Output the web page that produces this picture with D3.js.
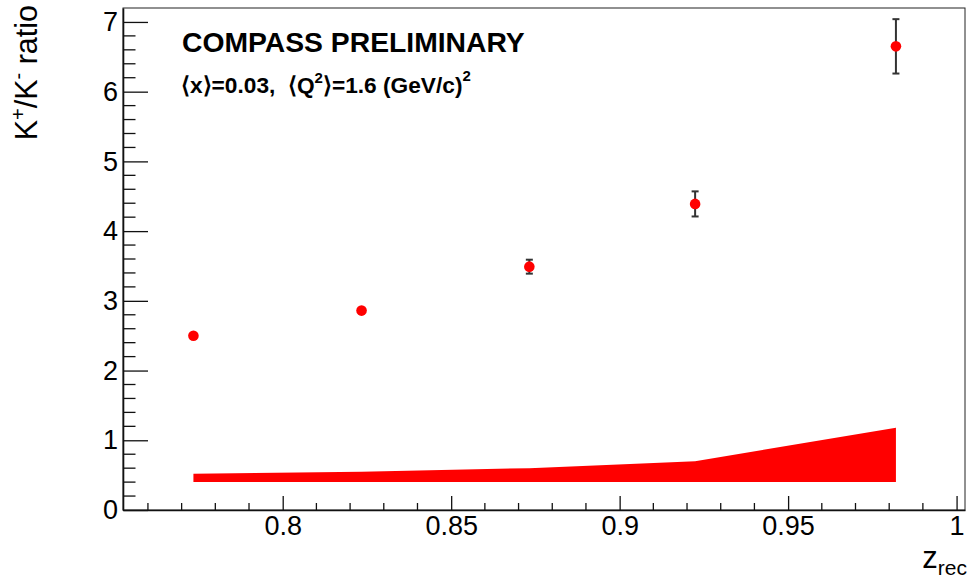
<!DOCTYPE html>
<html>
<head>
<meta charset="utf-8">
<script src="https://cdn.jsdelivr.net/npm/d3@7"></script>
<style>
  html, body { margin: 0; padding: 0; background: #fff; }
  svg { display: block; }
  text { font-family: "Liberation Sans", Arial, Helvetica, sans-serif; }
</style>
</head>
<body>
<svg id="chart" width="969" height="579"></svg>
<script>
// ---- data ----
const zValues   = [0.7735, 0.8234, 0.8732, 0.9224, 0.9820];
const ratio     = [2.50, 2.86, 3.49, 4.39, 6.65];
const statErr   = [0.02, 0.03, 0.10, 0.18, 0.39];
const sysLow    = [0.40, 0.40, 0.40, 0.40, 0.40];
const sysHigh   = [0.52, 0.55, 0.60, 0.70, 1.18];
const xTicks    = [0.8, 0.85, 0.9, 0.95, 1];
const xTickLabels = ["0.8", "0.85", "0.9", "0.95", "1"];
const yTicks    = [0, 1, 2, 3, 4, 5, 6, 7];
const xDomain   = [0.7526, 1.0025];
const yDomain   = [0, 7.2];

// ---- layout ----
const svg = d3.select("#chart");
const L = 123, R = 965, T = 8, B = 510;
const x = d3.scaleLinear().domain(xDomain).range([L, R]);
const y = d3.scaleLinear().domain(yDomain).range([B, T]);

svg.append("rect").attr("width", 969).attr("height", 579).attr("fill", "#fff");

// systematic band
const bandPts = zValues.map((z, i) => [x(z), y(sysHigh[i])])
  .concat(zValues.map((z, i) => [x(z), y(sysLow[i])]).reverse());
svg.append("path")
  .attr("d", d3.line()(bandPts) + "Z")
  .attr("fill", "#ff0000")
  .attr("stroke", "none");

// frame
svg.append("rect")
  .attr("x", L).attr("y", T).attr("width", R - L).attr("height", B - T)
  .attr("fill", "none").attr("stroke", "#222").attr("stroke-width", 1);

// x axis
const xAxis = d3.axisBottom(x)
  .tickValues(xTicks)
  .tickFormat((d, i) => xTickLabels[i])
  .tickSizeInner(-14).tickSizeOuter(0).tickPadding(6);
const gx = svg.append("g").attr("transform", `translate(0,${B})`).call(xAxis);
gx.select(".domain").attr("stroke", "#111").attr("stroke-width", 1.6);
gx.selectAll(".tick line").attr("stroke", "#111").attr("stroke-width", 1.3);
gx.selectAll(".tick text").attr("font-size", 27).attr("fill", "#000")
  .attr("font-family", "Liberation Sans, Arial, sans-serif");
const xMinor = d3.range(76, 101).map(v => v / 100).filter(v => !xTicks.some(t => Math.abs(t - v) < 1e-9));
svg.append("g").selectAll("line").data(xMinor).join("line")
  .attr("x1", d => x(d)).attr("x2", d => x(d))
  .attr("y1", B).attr("y2", B - 7)
  .attr("stroke", "#111").attr("stroke-width", 1.3);

// y axis
const yAxis = d3.axisLeft(y)
  .tickValues(yTicks)
  .tickFormat(d3.format("d"))
  .tickSizeInner(-25).tickSizeOuter(0).tickPadding(5);
const gy = svg.append("g").attr("transform", `translate(${L},0)`).call(yAxis);
gy.select(".domain").attr("stroke", "#111").attr("stroke-width", 1.6);
gy.selectAll(".tick line").attr("stroke", "#111").attr("stroke-width", 1.3);
gy.selectAll(".tick text").attr("font-size", 27).attr("fill", "#000")
  .attr("font-family", "Liberation Sans, Arial, sans-serif");
const yMinor = d3.range(1, 36).map(v => v * 0.2).filter(v => Math.abs(v - Math.round(v)) > 1e-6 && v <= 7.2);
svg.append("g").selectAll("line").data(yMinor).join("line")
  .attr("x1", L).attr("x2", L + 12.5)
  .attr("y1", d => y(d)).attr("y2", d => y(d))
  .attr("stroke", "#111").attr("stroke-width", 1.3);

// error bars
const eb = svg.append("g").attr("stroke", "#333").attr("stroke-width", 2);
zValues.forEach((z, i) => {
  const cx = x(z), y1 = y(ratio[i] - statErr[i]), y2 = y(ratio[i] + statErr[i]);
  if (y1 - y2 > 10) {
    eb.append("line").attr("x1", cx).attr("x2", cx).attr("y1", y1).attr("y2", y2);
    eb.append("line").attr("x1", cx - 3.5).attr("x2", cx + 3.5).attr("y1", y1).attr("y2", y1);
    eb.append("line").attr("x1", cx - 3.5).attr("x2", cx + 3.5).attr("y1", y2).attr("y2", y2);
  }
});

// markers
svg.append("g").selectAll("circle").data(zValues).join("circle")
  .attr("cx", d => x(d)).attr("cy", (d, i) => y(ratio[i]))
  .attr("r", 5.3).attr("fill", "#ff0000");

// annotations
svg.append("text").attr("x", 182).attr("y", 52)
  .attr("font-size", 28.3).attr("font-weight", "bold").text("COMPASS PRELIMINARY");
const t2 = svg.append("text").attr("x", 181).attr("y", 93)
  .attr("font-size", 22.7).attr("font-weight", "bold");
t2.append("tspan").text("\u27E8x\u27E9=0.03,\u00A0 \u27E8Q");
t2.append("tspan").attr("font-size", 15).attr("dy", -10).text("2");
t2.append("tspan").attr("dy", 10).text("\u27E9=1.6 (GeV/c)");
t2.append("tspan").attr("font-size", 15).attr("dy", -12).text("2");

// y axis title
const yt = svg.append("text")
  .attr("transform", "translate(37,5) rotate(-90)")
  .attr("text-anchor", "end").attr("font-size", 30.5);
yt.append("tspan").text("K");
yt.append("tspan").attr("font-size", 20).attr("dy", -12).text("+");
yt.append("tspan").attr("dy", 12).text("/K");
yt.append("tspan").attr("font-size", 20).attr("dy", -12).text("-");
yt.append("tspan").attr("dy", 12).text(" ratio");

// x axis title
const xt = svg.append("text").attr("x", 967).attr("y", 568)
  .attr("text-anchor", "end").attr("font-size", 31);
xt.append("tspan").text("z");
xt.append("tspan").attr("font-size", 21).attr("dy", 7).text("rec");
</script>
</body>
</html>
